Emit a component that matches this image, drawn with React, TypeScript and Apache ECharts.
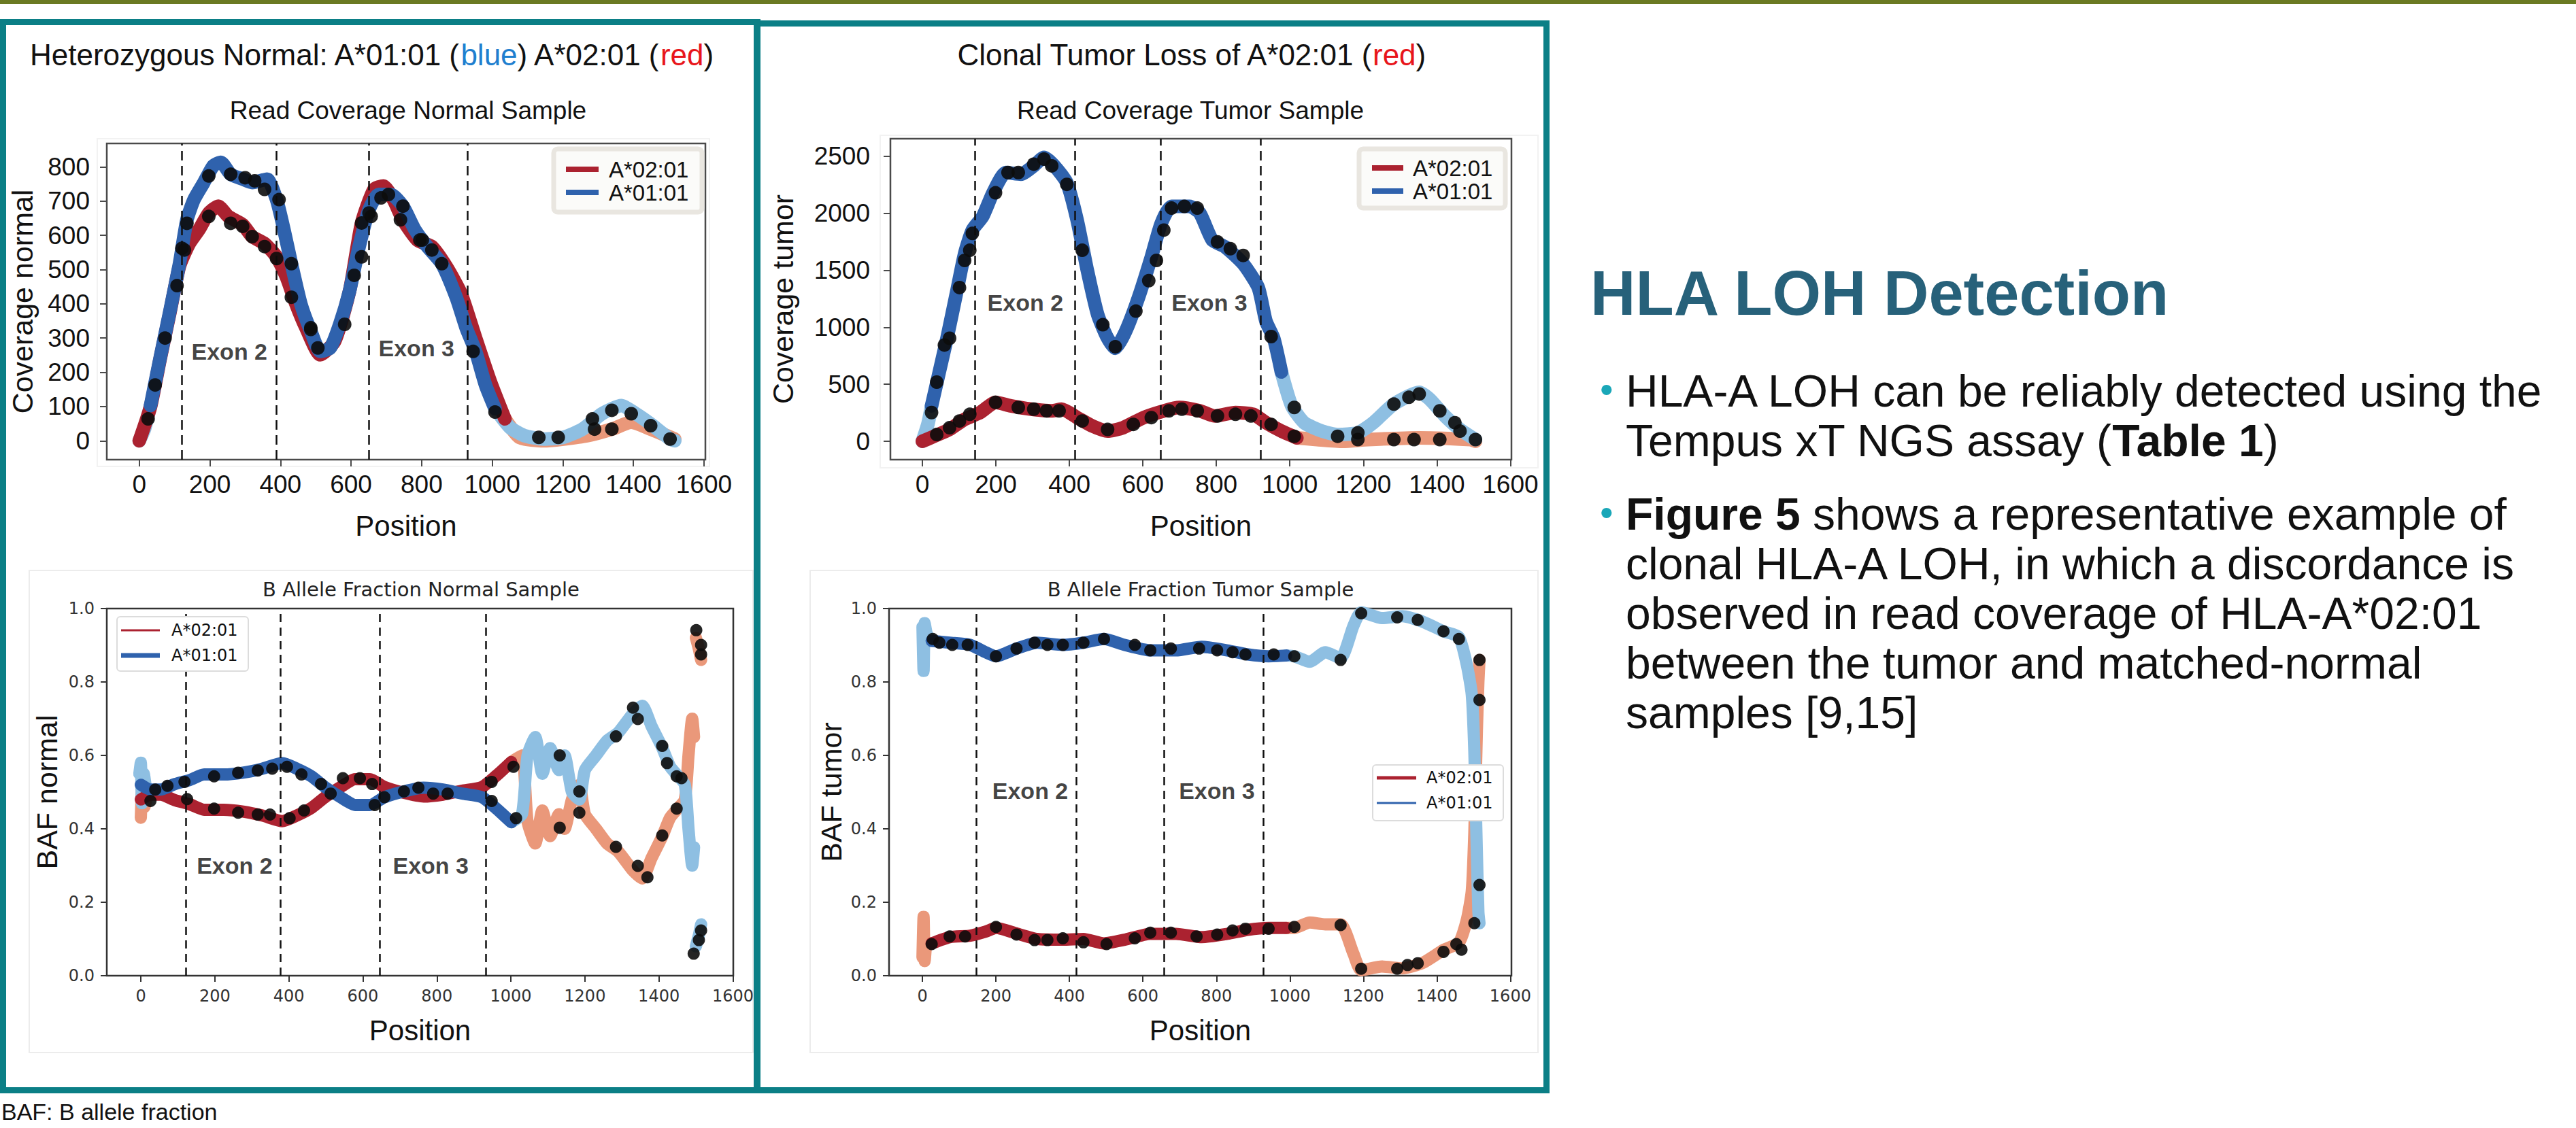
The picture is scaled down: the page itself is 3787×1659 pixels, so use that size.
import React, { useEffect, useRef } from 'react';
import * as echarts from 'echarts';

const W = 3787;
const H = 1659;

// ---------- tick labels ----------
const X_TICKS = [0, 200, 400, 600, 800, 1000, 1200, 1400, 1600];
const COV_NORMAL_Y_TICKS = [0, 100, 200, 300, 400, 500, 600, 700, 800];
const COV_TUMOR_Y_TICKS = [0, 500, 1000, 1500, 2000, 2500];
const BAF_Y_TICKS = [0, 0.2, 0.4, 0.6, 0.8, 1.0];

// ---------- exon boundaries (dashed lines) ----------
const COV_NORMAL_EXON_BOUNDS = [121, 389, 651, 929];
const COV_TUMOR_EXON_BOUNDS = [143, 416, 648, 921];
const BAF_NORMAL_EXON_BOUNDS = [121, 378, 646, 932];
const BAF_TUMOR_EXON_BOUNDS = [147, 419, 658, 928];

// ---------- exon labels [name, x, y] ----------
const COV_NORMAL_EXON_LABELS = [['Exon 2', 148, 261], ['Exon 3', 678, 271]];
const COV_TUMOR_EXON_LABELS = [['Exon 2', 177, 1217], ['Exon 3', 678, 1217]];
const BAF_NORMAL_EXON_LABELS = [['Exon 2', 151, 0.3], ['Exon 3', 681, 0.3]];
const BAF_TUMOR_EXON_LABELS = [['Exon 2', 190, 0.504], ['Exon 3', 698, 0.504]];

// ---------- Read coverage, normal sample ----------
const covNormBlueStart = [[0, 0], [15, 35], [32, 103]];
const covNormBlue = [[32, 103], [59, 241], [87, 379], [114, 517], [135, 645], [155, 704], [183, 754], [210, 803], [231, 813], [259, 778], [293, 764], [320, 754], [362, 764], [389, 704], [410, 616], [431, 517], [458, 399], [486, 320], [513, 261], [541, 271], [568, 340], [596, 438], [623, 567], [651, 675], [678, 719], [713, 719], [747, 685], [781, 616], [816, 567], [857, 517], [898, 419], [926, 330], [953, 261], [981, 163], [1008, 94]];
const covNormBlueLight = [[1008, 94], [1050, 39], [1091, 15], [1146, 5], [1201, 10], [1256, 34], [1311, 79], [1366, 103], [1407, 79], [1449, 49], [1504, 5], [1517, 0]];
const covNormRed = [[0, 0], [32, 100], [59, 238], [87, 375], [114, 510], [142, 576], [169, 616], [197, 665], [224, 685], [252, 655], [293, 631], [320, 596], [355, 576], [389, 537], [417, 478], [444, 399], [472, 330], [513, 251], [554, 291], [596, 438], [630, 636], [665, 734], [692, 744], [720, 704], [747, 645], [788, 586], [829, 567], [871, 507], [912, 429], [953, 300], [995, 172], [1036, 64]];
const covNormRedLight = [[1036, 64], [1077, 10], [1146, 0], [1201, 5], [1270, 15], [1339, 34], [1394, 54], [1449, 34], [1517, 5]];
const covNormDots = [[25, 64], [45, 163], [73, 300], [107, 453], [121, 562], [135, 635], [197, 773], [259, 778], [300, 768], [327, 759], [355, 734], [396, 704], [431, 517], [486, 330], [506, 271], [582, 340], [609, 483], [630, 537], [657, 655], [685, 709], [706, 719], [747, 685], [802, 586], [829, 557], [857, 517], [946, 261], [1008, 84], [1132, 10], [1187, 10], [1284, 64], [1339, 89], [1394, 79], [1449, 44], [1504, 5], [128, 557], [197, 655], [259, 635], [293, 626], [320, 596], [355, 567], [389, 532], [431, 419], [486, 325], [630, 636], [651, 665], [740, 645], [795, 586], [1290, 34], [1339, 34]];

// ---------- Read coverage, tumor sample ----------
const covTumBlueStart = [[0, 0], [15, 150], [25, 311]];
const covTumBlue = [[25, 311], [46, 608], [67, 904], [94, 1320], [115, 1646], [136, 1853], [164, 1972], [192, 2180], [227, 2358], [268, 2343], [303, 2417], [331, 2491], [359, 2417], [393, 2269], [421, 1942], [449, 1498], [477, 1112], [504, 904], [525, 816], [553, 964], [588, 1260], [623, 1616], [650, 1913], [678, 2061], [727, 2061], [755, 2002], [789, 1765], [824, 1705], [873, 1557], [914, 1349], [935, 1053], [956, 904], [977, 608]];
const covTumBlueLight = [[977, 608], [1005, 311], [1039, 163], [1088, 89], [1130, 59], [1185, 74], [1227, 163], [1283, 326], [1352, 430], [1380, 371], [1422, 222], [1463, 104], [1505, 15]];
const covTumRed = [[0, 0], [32, 44], [74, 104], [115, 193], [157, 252], [199, 341], [240, 311], [296, 282], [352, 267], [379, 282], [421, 208], [463, 133], [504, 89], [546, 119], [602, 208], [657, 267], [699, 297], [755, 267], [796, 222], [852, 252], [900, 237], [935, 163], [977, 89], [1019, 30]];
const covTumRedLight = [[1019, 30], [1074, 15], [1144, 0], [1213, 15], [1352, 30], [1491, 15], [1505, 0]];
const covTumDots = [[25, 252], [39, 519], [60, 845], [74, 904], [101, 1349], [115, 1587], [129, 1676], [136, 1824], [199, 2180], [233, 2358], [261, 2358], [303, 2432], [331, 2476], [352, 2417], [393, 2254], [435, 1676], [491, 1023], [525, 830], [581, 1142], [616, 1409], [637, 1587], [657, 1853], [678, 2046], [713, 2061], [748, 2046], [803, 1750], [838, 1690], [873, 1631], [949, 919], [1012, 297], [1130, 44], [1185, 74], [1283, 326], [1324, 386], [1352, 415], [1408, 267], [1449, 163], [1463, 89], [1505, 15], [39, 59], [74, 119], [101, 178], [129, 237], [199, 341], [261, 297], [303, 282], [338, 267], [372, 267], [435, 178], [504, 104], [574, 148], [623, 208], [671, 267], [706, 282], [748, 267], [803, 222], [852, 237], [894, 222], [949, 148], [1012, 44], [1185, 15], [1283, 15], [1338, 15], [1408, 15]];

// ---------- B allele fraction, normal sample ----------
const bafNormBlue = [[0, 0.52], [26, 0.507], [53, 0.507], [92, 0.522], [132, 0.533], [171, 0.548], [224, 0.548], [276, 0.553], [329, 0.564], [382, 0.579], [421, 0.564], [461, 0.543], [500, 0.512], [540, 0.486], [579, 0.465], [619, 0.465], [658, 0.486], [711, 0.502], [764, 0.512], [816, 0.507], [869, 0.496], [922, 0.486], [961, 0.455], [1001, 0.418]];
const bafNormBlueStart = [[-4, 0.55], [0, 0.58], [3, 0.47], [8, 0.55], [15, 0.5]];
const bafNormBlueLight = [[1001, 0.418], [1030, 0.44], [1045, 0.6], [1066, 0.65], [1085, 0.55], [1106, 0.62], [1130, 0.56], [1145, 0.6], [1165, 0.5], [1185, 0.48], [1200, 0.56], [1230, 0.6], [1260, 0.64], [1290, 0.662], [1330, 0.714], [1355, 0.735], [1380, 0.68], [1409, 0.621], [1430, 0.57], [1448, 0.548], [1470, 0.52], [1480, 0.4], [1490, 0.3], [1495, 0.35]];
const bafNormBlueEnd = [[1500, 0.08], [1508, 0.11], [1514, 0.14]];
const bafNormRed = [[0, 0.48], [26, 0.493], [53, 0.493], [92, 0.478], [132, 0.467], [171, 0.452], [224, 0.452], [276, 0.447], [329, 0.436], [382, 0.421], [421, 0.436], [461, 0.457], [500, 0.488], [540, 0.514], [579, 0.535], [619, 0.535], [658, 0.514], [711, 0.498], [764, 0.488], [816, 0.493], [869, 0.504], [922, 0.514], [961, 0.545], [1001, 0.582]];
const bafNormRedStart = [[0, 0.43], [4, 0.52], [10, 0.46], [15, 0.48]];
const bafNormRedLight = [[1001, 0.582], [1030, 0.6], [1045, 0.42], [1066, 0.36], [1085, 0.45], [1106, 0.38], [1130, 0.44], [1145, 0.4], [1165, 0.48], [1185, 0.52], [1200, 0.44], [1230, 0.4], [1260, 0.36], [1290, 0.338], [1330, 0.286], [1355, 0.265], [1380, 0.32], [1409, 0.379], [1430, 0.43], [1448, 0.452], [1470, 0.48], [1480, 0.6], [1490, 0.7], [1495, 0.65]];
const bafNormRedEnd = [[1500, 0.92], [1508, 0.89], [1514, 0.86]];
const bafNormDots = [[26, 0.476], [39, 0.507], [72, 0.517], [118, 0.528], [125, 0.481], [198, 0.543], [198, 0.455], [263, 0.553], [263, 0.444], [316, 0.559], [316, 0.439], [355, 0.564], [349, 0.439], [395, 0.569], [402, 0.429], [434, 0.548], [441, 0.45], [487, 0.522], [513, 0.496], [546, 0.538], [592, 0.538], [625, 0.522], [632, 0.465], [658, 0.486], [711, 0.502], [750, 0.512], [790, 0.496], [829, 0.496], [948, 0.528], [948, 0.476], [1007, 0.569], [1014, 0.429], [1132, 0.6], [1132, 0.403], [1185, 0.502], [1185, 0.444], [1284, 0.652], [1284, 0.351], [1330, 0.73], [1343, 0.699], [1343, 0.299], [1369, 0.268], [1409, 0.626], [1409, 0.382], [1422, 0.579], [1448, 0.543], [1448, 0.455], [1461, 0.538], [1501, 0.941], [1514, 0.901], [1514, 0.875], [1494, 0.06], [1508, 0.097], [1514, 0.123]];

// ---------- B allele fraction, tumor sample ----------
const bafTumBlueStart = [[0, 0.95], [3, 0.83], [6, 0.96], [12, 0.93], [25, 0.912]];
const bafTumBlue = [[25, 0.912], [74, 0.907], [130, 0.901], [172, 0.881], [200, 0.87], [256, 0.891], [312, 0.907], [382, 0.901], [438, 0.907], [494, 0.917], [550, 0.901], [620, 0.886], [690, 0.886], [760, 0.896], [830, 0.886], [886, 0.875], [942, 0.87], [990, 0.872]];
const bafTumBlueLight = [[990, 0.872], [1012, 0.87], [1054, 0.855], [1096, 0.881], [1138, 0.865], [1173, 0.953], [1194, 0.99], [1250, 0.974], [1306, 0.979], [1362, 0.964], [1418, 0.938], [1460, 0.922], [1481, 0.849], [1495, 0.766], [1502, 0.611], [1509, 0.33], [1513, 0.174], [1516, 0.143]];
const bafTumRedStart = [[0, 0.05], [3, 0.16], [6, 0.04], [12, 0.09], [25, 0.088]];
const bafTumRed = [[25, 0.088], [74, 0.105], [130, 0.109], [172, 0.12], [200, 0.13], [256, 0.115], [312, 0.1], [382, 0.098], [438, 0.1], [494, 0.088], [550, 0.098], [620, 0.114], [690, 0.114], [760, 0.105], [830, 0.114], [886, 0.125], [942, 0.13], [990, 0.13]];
const bafTumRedLight = [[990, 0.13], [1012, 0.13], [1054, 0.145], [1096, 0.14], [1138, 0.14], [1173, 0.06], [1194, 0.015], [1250, 0.025], [1306, 0.02], [1362, 0.035], [1418, 0.07], [1460, 0.09], [1481, 0.15], [1495, 0.23], [1502, 0.39], [1509, 0.67], [1513, 0.8], [1516, 0.86]];
const bafTumDots = [[28, 0.917], [46, 0.907], [81, 0.901], [123, 0.901], [200, 0.87], [256, 0.891], [305, 0.907], [340, 0.901], [382, 0.901], [438, 0.907], [494, 0.917], [578, 0.901], [620, 0.886], [676, 0.891], [753, 0.891], [802, 0.886], [844, 0.881], [879, 0.875], [956, 0.875], [1012, 0.87], [1138, 0.86], [1194, 0.987], [1292, 0.976], [1348, 0.969], [1418, 0.938], [1460, 0.917], [1516, 0.86], [1516, 0.751], [25, 0.086], [74, 0.107], [116, 0.107], [200, 0.133], [256, 0.112], [305, 0.097], [340, 0.097], [382, 0.102], [438, 0.091], [501, 0.086], [578, 0.102], [620, 0.117], [676, 0.117], [746, 0.107], [802, 0.112], [844, 0.123], [879, 0.128], [942, 0.128], [1012, 0.133], [1138, 0.138], [1194, 0.019], [1292, 0.019], [1320, 0.029], [1348, 0.034], [1418, 0.065], [1453, 0.086], [1467, 0.071], [1516, 0.247], [1502, 0.143]];

// ---------- legend / text content ----------
const LEGEND_NAMES = ['A*02:01', 'A*01:01'];
const BULLET_1 = ['HLA-A LOH can be reliably detected using the', 'Tempus xT NGS assay ({b|Table 1})'];
const BULLET_2 = ['{b|Figure 5} shows a representative example of', 'clonal HLA-A LOH, in which a discordance is', 'observed in read coverage of HLA-A*02:01', 'between the tumor and matched-normal', 'samples [9,15]'];

// ---------- styling ----------
const C_BLUE = '#2f62ad';
const C_RED = '#ab2230';
const C_LBLUE = '#8ebfe2';
const C_SALMON = '#ea987a';
const TEAL = '#0b7f86';
const ARIAL = '"Liberation Sans", Arial, Helvetica, sans-serif';
const DEJAVU = '"DejaVu Sans", Verdana, sans-serif';

type Panel = {
  grid: { left: number; top: number; width: number; height: number };
  xMin: number; xMax: number; yMin: number; yMax: number;
  yTicks: number[]; bottom: boolean; yName: string; yGap: number; yMargin: number; xGap: number;
  bounds: number[]; labels: any[];
  redLight: number[][][]; blueLight: number[][][]; red: number[][]; blue: number[][]; dots: number[][];
  lineW: number; dotSize: number;
};

const PANELS: Panel[] = [
  {
    grid: { left: 157, top: 211, width: 880, height: 465 }, xMin: -92, xMax: 1604, yMin: -55, yMax: 868,
    yTicks: COV_NORMAL_Y_TICKS, bottom: false, yName: 'Coverage normal', yGap: 103, yMargin: 25, xGap: 76,
    bounds: COV_NORMAL_EXON_BOUNDS, labels: COV_NORMAL_EXON_LABELS,
    redLight: [covNormRedLight], blueLight: [covNormBlueStart, covNormBlueLight], red: covNormRed, blue: covNormBlue, dots: covNormDots,
    lineW: 20, dotSize: 20,
  },
  {
    grid: { left: 1309, top: 204, width: 913, height: 472 }, xMin: -87, xMax: 1603, yMin: -161, yMax: 2655,
    yTicks: COV_TUMOR_Y_TICKS, bottom: false, yName: 'Coverage tumor', yGap: 137, yMargin: 30, xGap: 76,
    bounds: COV_TUMOR_EXON_BOUNDS, labels: COV_TUMOR_EXON_LABELS,
    redLight: [covTumRedLight], blueLight: [covTumBlueStart, covTumBlueLight], red: covTumRed, blue: covTumBlue, dots: covTumDots,
    lineW: 20, dotSize: 20,
  },
  {
    grid: { left: 157, top: 895, width: 921, height: 540 }, xMin: -92, xMax: 1601, yMin: 0, yMax: 1,
    yTicks: BAF_Y_TICKS, bottom: true, yName: 'BAF normal', yGap: 67, yMargin: 18, xGap: 59,
    bounds: BAF_NORMAL_EXON_BOUNDS, labels: BAF_NORMAL_EXON_LABELS,
    redLight: [bafNormRedStart, bafNormRedLight, bafNormRedEnd], blueLight: [bafNormBlueStart, bafNormBlueLight, bafNormBlueEnd], red: bafNormRed, blue: bafNormBlue, dots: bafNormDots,
    lineW: 18, dotSize: 18,
  },
  {
    grid: { left: 1307, top: 895, width: 915, height: 540 }, xMin: -91, xMax: 1603, yMin: 0, yMax: 1,
    yTicks: BAF_Y_TICKS, bottom: true, yName: 'BAF tumor', yGap: 64, yMargin: 18, xGap: 59,
    bounds: BAF_TUMOR_EXON_BOUNDS, labels: BAF_TUMOR_EXON_LABELS,
    redLight: [bafTumRedStart, bafTumRedLight], blueLight: [bafTumBlueStart, bafTumBlueLight], red: bafTumRed, blue: bafTumBlue, dots: bafTumDots,
    lineW: 18, dotSize: 18,
  },
];

function buildOption() {
  const grid: any[] = [];
  const xAxis: any[] = [];
  const yAxis: any[] = [];
  const series: any[] = [];

  PANELS.forEach((p, i) => {
    const frame = p.bottom ? '#333' : '#4a4a4a';
    const labelFont = p.bottom ? DEJAVU : ARIAL;
    const labelSize = p.bottom ? 24 : 37;
    const labelColor = p.bottom ? '#333' : '#111';
    grid.push({ ...p.grid, show: true, borderColor: frame, borderWidth: 2.5, backgroundColor: 'transparent' });
    xAxis.push({
      gridIndex: i, type: 'value', min: p.xMin, max: p.xMax,
      axisLine: { show: false, onZero: false }, splitLine: { show: false },
      axisTick: { show: true, customValues: X_TICKS, length: p.bottom ? 9 : 10, lineStyle: { color: frame, width: 2 } },
      axisLabel: { customValues: X_TICKS, fontSize: labelSize, fontFamily: labelFont, color: labelColor, margin: 18, formatter: (v: number) => String(v) },
      name: 'Position', nameLocation: 'middle', nameGap: p.xGap,
      nameTextStyle: { fontSize: 42, fontFamily: ARIAL, color: '#111' },
    });
    yAxis.push({
      gridIndex: i, type: 'value', min: p.yMin, max: p.yMax,
      axisLine: { show: false, onZero: false }, splitLine: { show: false },
      axisTick: { show: true, customValues: p.yTicks, length: p.bottom ? 9 : 10, lineStyle: { color: frame, width: 2 } },
      axisLabel: {
        customValues: p.yTicks, fontSize: labelSize, fontFamily: labelFont, color: labelColor, margin: p.yMargin,
        formatter: p.bottom ? (v: number) => v.toFixed(1) : (v: number) => String(v),
      },
      name: p.yName, nameLocation: 'middle', nameGap: p.yGap,
      nameTextStyle: { fontSize: 43, fontFamily: ARIAL, color: '#111' },
    });

    const line = (name: string, data: number[][], color: string, z: number) => ({
      type: 'line', name, data, xAxisIndex: i, yAxisIndex: i, showSymbol: false, symbol: 'none',
      smooth: 0.2, silent: true, z,
      lineStyle: { color, width: p.lineW, cap: 'round', join: 'round' }, itemStyle: { color },
    });
    p.redLight.forEach((d) => series.push(line(LEGEND_NAMES[0] + ' light', d, C_SALMON, 2)));
    p.blueLight.forEach((d) => series.push(line(LEGEND_NAMES[1] + ' light', d, C_LBLUE, 2)));
    series.push(line(LEGEND_NAMES[0], p.red, C_RED, 3));
    series.push(line(LEGEND_NAMES[1], p.blue, C_BLUE, 4));
    series.push({
      type: 'scatter', name: 'points', data: p.dots, xAxisIndex: i, yAxisIndex: i, silent: true, z: 5,
      symbolSize: p.dotSize, itemStyle: { color: '#0c0c0c', opacity: 0.9 },
      markLine: {
        silent: true, symbol: ['none', 'none'], label: { show: false },
        lineStyle: { color: '#111', width: 2.5, type: p.bottom ? [12, 8] : [14, 8] },
        data: p.bounds.map((b) => ({ xAxis: b })),
      },
    });
    series.push({
      type: 'scatter', name: 'exons', xAxisIndex: i, yAxisIndex: i, silent: true, z: 6, symbolSize: 0,
      data: p.labels.map((l) => ({ name: l[0], value: [l[1], l[2]] })),
      label: { show: true, formatter: '{b}', position: 'right', distance: 0, fontSize: 34, fontWeight: 'bold', fontFamily: ARIAL, color: '#111' },
    });
  });

  const graphic: any[] = [];
  // top green band
  graphic.push({ type: 'rect', shape: { x: 0, y: 0, width: W, height: 6 }, style: { fill: '#6b7a22' } });
  // teal panel boxes
  graphic.push({ type: 'rect', shape: { x: 4.5, y: 32.5, width: 1109, height: 1571 }, style: { fill: 'none', stroke: TEAL, lineWidth: 9 } });
  graphic.push({ type: 'rect', shape: { x: 1112.5, y: 34.5, width: 1161, height: 1569 }, style: { fill: 'none', stroke: TEAL, lineWidth: 9 } });
  // faint figure frames of the embedded plots
  graphic.push({ type: 'rect', shape: { x: 43, y: 839, width: 1064, height: 709 }, style: { fill: 'none', stroke: '#ececec', lineWidth: 2 } });
  graphic.push({ type: 'rect', shape: { x: 1191, y: 839, width: 1070, height: 709 }, style: { fill: 'none', stroke: '#ececec', lineWidth: 2 } });
  graphic.push({ type: 'rect', shape: { x: 143, y: 204, width: 900, height: 482 }, style: { fill: 'none', stroke: '#f2f2f2', lineWidth: 2 } });
  graphic.push({ type: 'rect', shape: { x: 1294, y: 199, width: 967, height: 489 }, style: { fill: 'none', stroke: '#f2f2f2', lineWidth: 2 } });

  // panel titles
  graphic.push({
    type: 'text', style: {
      text: 'Heterozygous Normal: A*01:01 ({b|blue}) A*02:01 ({r|red})', x: 44, y: 80, verticalAlign: 'middle',
      fontSize: 44, fontFamily: ARIAL, fill: '#111',
      rich: { b: { fill: '#1f7fcf', fontSize: 44, fontFamily: ARIAL }, r: { fill: '#e8151b', fontSize: 44, fontFamily: ARIAL } },
    },
  });
  graphic.push({
    type: 'text', style: {
      text: 'Clonal Tumor Loss of A*02:01 ({r|red})', x: 1751, y: 80, align: 'center', verticalAlign: 'middle',
      fontSize: 44, fontFamily: ARIAL, fill: '#111',
      rich: { r: { fill: '#e8151b', fontSize: 44, fontFamily: ARIAL } },
    },
  });
  graphic.push({ type: 'text', style: { text: 'Read Coverage Normal Sample', x: 600, y: 162, align: 'center', verticalAlign: 'middle', fontSize: 37, fontFamily: ARIAL, fill: '#111' } });
  graphic.push({ type: 'text', style: { text: 'Read Coverage Tumor Sample', x: 1750, y: 162, align: 'center', verticalAlign: 'middle', fontSize: 37, fontFamily: ARIAL, fill: '#111' } });
  graphic.push({ type: 'text', style: { text: 'B Allele Fraction Normal Sample', x: 619, y: 867, align: 'center', verticalAlign: 'middle', fontSize: 29, fontFamily: DEJAVU, fill: '#222' } });
  graphic.push({ type: 'text', style: { text: 'B Allele Fraction Tumor Sample', x: 1765, y: 867, align: 'center', verticalAlign: 'middle', fontSize: 29, fontFamily: DEJAVU, fill: '#222' } });

  // legends (drawn above the plot marks)
  const legend = (x: number, y: number, w: number, h: number, lx: number, lw: number, y1: number, y2: number,
    tx: number, w1: number, w2: number, font: string, size: number, top: boolean) => {
    graphic.push({
      type: 'rect', z: 100, shape: { x, y, width: w, height: h, r: top ? 6 : 5 },
      style: top ? { fill: '#fbfbf9', stroke: '#e9e6e0', lineWidth: 7 } : { fill: '#ffffff', stroke: '#dcdcdc', lineWidth: 2 },
    });
    graphic.push({ type: 'line', z: 101, shape: { x1: lx, y1, x2: lx + lw, y2: y1 }, style: { stroke: C_RED, lineWidth: w1 } });
    graphic.push({ type: 'line', z: 101, shape: { x1: lx, y1: y2, x2: lx + lw, y2 }, style: { stroke: C_BLUE, lineWidth: w2 } });
    graphic.push({ type: 'text', z: 101, style: { text: LEGEND_NAMES[0], x: tx, y: y1, verticalAlign: 'middle', fontSize: size, fontFamily: font, fill: '#111' } });
    graphic.push({ type: 'text', z: 101, style: { text: LEGEND_NAMES[1], x: tx, y: y2, verticalAlign: 'middle', fontSize: size, fontFamily: font, fill: '#111' } });
  };
  legend(814, 219, 218, 93, 832, 48, 249, 283, 895, 8, 8, ARIAL, 33, true);
  legend(1998, 219, 215, 87, 2017, 46, 247, 281, 2077, 8, 8, ARIAL, 33, true);
  legend(172, 907, 193, 80, 178, 57, 927, 964, 252, 3, 7, DEJAVU, 24, false);
  legend(2018, 1125, 192, 82, 2024, 58, 1144, 1181, 2097, 5, 3, DEJAVU, 24, false);

  // right-hand text
  graphic.push({ type: 'text', style: { text: 'HLA LOH Detection', x: 2338, y: 431, verticalAlign: 'middle', fontSize: 92, fontWeight: 'bold', fontFamily: ARIAL, fill: '#27617a' } });
  const bodyRich = { b: { fontWeight: 'bold', fontSize: 66, fontFamily: ARIAL, fill: '#111' } };
  const bullet = (y: number) => graphic.push({ type: 'text', style: { text: '•', x: 2352, y, verticalAlign: 'middle', fontSize: 56, fontFamily: ARIAL, fill: '#1aa7b8' } });
  bullet(572);
  BULLET_1.forEach((t, k) => graphic.push({ type: 'text', style: { text: t, x: 2390, y: 575 + k * 73, verticalAlign: 'middle', fontSize: 66, fontFamily: ARIAL, fill: '#111', rich: bodyRich } }));
  bullet(753);
  BULLET_2.forEach((t, k) => graphic.push({ type: 'text', style: { text: t, x: 2390, y: 756 + k * 73, verticalAlign: 'middle', fontSize: 66, fontFamily: ARIAL, fill: '#111', rich: bodyRich } }));

  // footnote at the very bottom, just below the left panel box
  graphic.push({ type: 'text', style: { text: 'BAF: B allele fraction', x: 2, y: 1618, verticalAlign: 'top', fontSize: 34, fontFamily: ARIAL, fill: '#111' } });

  return { animation: false, backgroundColor: '#ffffff', grid, xAxis, yAxis, series, graphic };
}

export default function App() {
  const ref = useRef<HTMLDivElement>(null);
  useEffect(() => {
    if (!ref.current) return;
    const chart = echarts.init(ref.current, null, { renderer: 'svg', width: W, height: H });
    chart.setOption(buildOption() as any);
    return () => chart.dispose();
  }, []);
  return <div ref={ref} style={{ position: 'fixed', left: 0, top: 0, width: W, height: H, background: '#fff' }} />;
}
